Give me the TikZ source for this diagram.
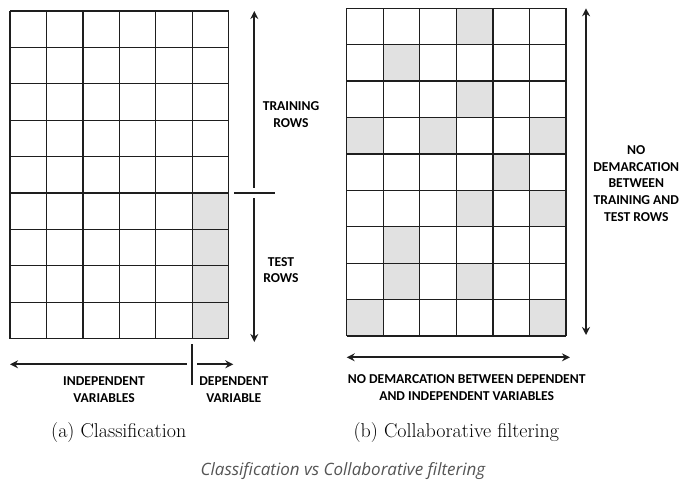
\documentclass[tikz,border=0pt]{standalone}
\usepackage{fontspec}
\setmainfont{Latin Modern Roman}
\newfontfamily\lblfont{Carlito}
\newfontfamily\capfont{Open Sans}
\usetikzlibrary{arrows.meta}
\definecolor{cellgray}{HTML}{E1E1E1}
\definecolor{linecol}{HTML}{1E1E1E}
\definecolor{capgray}{HTML}{555555}
\tikzset{
  gridline/.style={draw=linecol, line width=1.3pt},
  cellfill/.style={fill=cellgray},
  arrowline/.style={draw=linecol, line width=2pt, -{Stealth[length=8pt,width=8pt]}},
  dblarrow/.style={draw=linecol, line width=2pt, {Stealth[length=8pt,width=8pt]}-{Stealth[length=8pt,width=8pt]}},
  tickline/.style={draw=linecol, line width=2pt},
  lbl/.style={font=\lblfont\bfseries\fontsize{13.6}{16.7}\selectfont, align=center, text=black, inner sep=0pt},
  subcap/.style={font=\fontsize{20}{23}\selectfont, inner sep=0pt},
  maincap/.style={font=\capfont\itshape\fontsize{17}{20}\selectfont, text=capgray, inner sep=0pt}
}
\begin{document}
\begin{tikzpicture}[x=1pt,y=-1pt]
\useasboundingbox (0,0) rectangle (687,490);
% ---------- left grid ----------
\fill[cellfill] (10+5*36.45,11+5*36.4) rectangle (228.7,338.7);
\foreach \i in {0,...,6} \draw[gridline] (10+\i*36.45,11) -- (10+\i*36.45,338.7);
\foreach \j in {0,...,9} \draw[gridline] (10,11+\j*36.4) -- (228.7,11+\j*36.4);
% vertical arrows
\coordinate (trTop) at (254.3,11);
\coordinate (trBot) at (254.3,187.7);
\coordinate (teTop) at (254.3,198.3);
\coordinate (teBot) at (254.3,342);
\coordinate (tickL) at (234.3,192.7);
\coordinate (tickR) at (275.3,192.7);
\draw[arrowline] (trBot) -- (trTop);
\draw[arrowline] (teTop) -- (teBot);
\draw[tickline] (tickL) -- (tickR);
% horizontal arrows
\coordinate (indR) at (186.7,364.3);
\coordinate (indL) at (10,364.3);
\coordinate (depL) at (197.3,364.3);
\coordinate (depR) at (233.3,364.3);
\coordinate (vtTop) at (192,344);
\coordinate (vtBot) at (192,385);
\draw[arrowline] (indR) -- (indL);
\draw[arrowline] (depL) -- (depR);
\draw[tickline] (vtTop) -- (vtBot);
\node[lbl] (train) at (291,114.3) {TRAINING\\ROWS};
\node[lbl] (test) at (281,270.2) {TEST\\ROWS};
\node[lbl] (indep) at (104,389.3) {INDEPENDENT\\VARIABLES};
\node[lbl] (dep) at (233.8,389.3) {DEPENDENT\\VARIABLE};
% ---------- right grid ----------
\foreach \r/\c in {1/4,2/2,3/4,4/1,4/3,4/6,5/5,6/4,6/6,7/2,8/2,8/4,9/1,9/6}
  \fill[cellfill] (346.7+\c*36.55-36.55,8.3+\r*36.41-36.41) rectangle (346.7+\c*36.55,8.3+\r*36.41);
\foreach \i in {0,...,6} \draw[gridline] (346.7+\i*36.55,8.3) -- (346.7+\i*36.55,336);
\foreach \j in {0,...,9} \draw[gridline] (346.7,8.3+\j*36.41) -- (566,8.3+\j*36.41);
\coordinate (rTop) at (586,8.3);
\coordinate (rBot) at (586,335);
\draw[dblarrow] (rTop) -- (rBot);
\coordinate (hL) at (346.7,357.3);
\coordinate (hR) at (570,357.3);
\draw[dblarrow] (hL) -- (hR);
\node[lbl] (nodem) at (636.3,183.3) {NO\\DEMARCATION\\BETWEEN\\TRAINING AND\\TEST ROWS};
\node[lbl] (nodemvar) at (466.7,387.3) {NO DEMARCATION BETWEEN DEPENDENT\\AND INDEPENDENT VARIABLES};
% ---------- captions ----------
\node[subcap] (capa) at (118.7,433) {(a) Classification};
\node[subcap] (capb) at (456.3,433) {(b) Collaborative filtering};
\node[maincap] (cap) at (343,471.5) {Classification vs Collaborative filtering};
\end{tikzpicture}
\end{document}
